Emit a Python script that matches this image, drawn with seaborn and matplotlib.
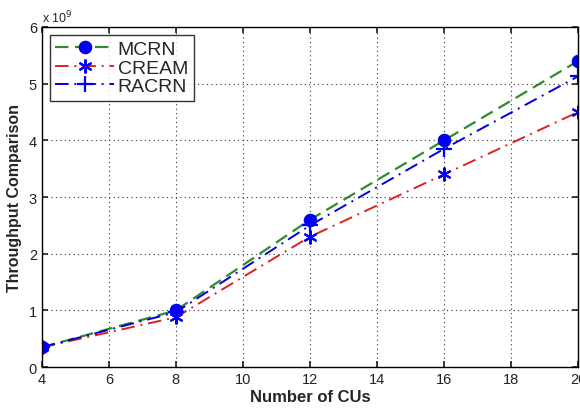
import numpy as np
import pandas as pd
import seaborn as sns
import matplotlib
matplotlib.use("Agg")
import matplotlib.pyplot as plt

sns.set_theme(style="white")
plt.rcParams['font.family'] = ['Liberation Sans', 'DejaVu Sans']

num_cus = [4, 8, 12, 16, 20]
mcrn = [0.35e9, 1.0e9, 2.6e9, 4.0e9, 5.4e9]
cream = [0.35e9, 0.88e9, 2.3e9, 3.4e9, 4.5e9]
racrn = [0.35e9, 0.97e9, 2.5e9, 3.85e9, 5.13e9]

fig = plt.figure(figsize=(5.8, 4.1), dpi=100)
ax = fig.add_axes([0.072, 0.102, 0.925, 0.83])

# 三条曲线
sns.lineplot(x=num_cus, y=mcrn, ax=ax, color="#2e8b2e", linestyle=(0, (6, 3)),
             linewidth=1.6, marker="o", markersize=9, markerfacecolor="#0000ff",
             markeredgecolor="#0000cc", label="MCRN")
sns.lineplot(x=num_cus, y=cream, ax=ax, color="#e02020", linestyle=(0, (7, 3, 1, 3)),
             linewidth=1.4, marker=(6, 2, 0), markersize=10, markeredgewidth=1.5,
             markerfacecolor="#0000ff", markeredgecolor="#0000ff", label="CREAM")
sns.lineplot(x=num_cus, y=racrn, ax=ax, color="#0000dd", linestyle=(0, (7, 3, 1, 3)),
             linewidth=1.4, marker="+", markersize=11, markeredgewidth=1.6,
             markeredgecolor="#0000ff", label="RACRN")

ax.set_xlim(4, 20)
ax.set_ylim(0, 6e9)
ax.set_xticks(np.arange(4, 21, 2))
ax.set_yticks(np.arange(0, 6.1e9, 1e9))
ax.set_yticklabels([str(i) for i in range(7)])
ax.text(0.0, 1.005, r"x 10$^9$", transform=ax.transAxes, fontsize=9, ha="left", va="bottom")

ax.grid(True, color="#333333", linestyle=(0, (1, 3)), linewidth=0.8)
ax.tick_params(direction="in", labelsize=10.5, labelcolor="#222222", length=4,
               top=True, right=True, left=True, bottom=True)
for s in ax.spines.values():
    s.set_color("black")
    s.set_linewidth(1.0)

ax.set_xlabel("Number of CUs", fontsize=12, fontweight="bold", labelpad=2)
ax.set_ylabel("Throughput Comparison", fontsize=11.5, fontweight="bold", labelpad=5)

leg = ax.legend(loc="upper left", fontsize=14, frameon=True, fancybox=False,
                edgecolor="black", handlelength=3.0, borderpad=0.3, labelspacing=0.05,
                handletextpad=0.2, borderaxespad=0.4)
leg.get_frame().set_linewidth(1.0)

fig.savefig("out.png", dpi=100)
